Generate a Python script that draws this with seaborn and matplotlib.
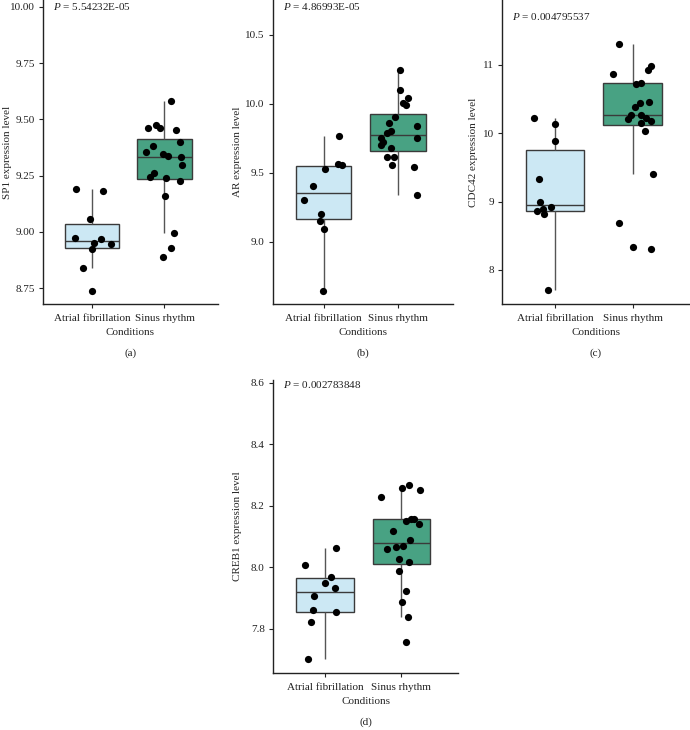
import numpy as np
import pandas as pd
import matplotlib
matplotlib.use("Agg")
import matplotlib.pyplot as plt
import seaborn as sns

# Values (expression levels per condition)
conditions = ["Atrial fibrillation", "Sinus rhythm"]

sp1_af = [9.191, 9.180, 9.057, 8.970, 8.944, 8.949, 8.922, 8.971, 8.839, 8.735]
sp1_sr = [9.584, 9.452, 9.461, 9.461, 9.474, 9.400, 9.381, 9.347, 9.333, 9.354,
          9.336, 9.299, 9.262, 9.240, 9.225, 9.243, 9.161, 8.995, 8.927, 8.887]

ar_af = [9.768, 9.553, 9.565, 9.527, 9.406, 9.302, 9.198, 9.152, 9.092, 8.647]
ar_sr = [10.242, 10.099, 10.039, 9.990, 10.002, 9.903, 9.862, 9.835, 9.800, 9.790,
         9.751, 9.749, 9.722, 9.676, 9.698, 9.611, 9.611, 9.541, 9.558, 9.341]

cdc42_af = [10.227, 10.130, 9.891, 9.337, 8.987, 8.895, 8.924, 8.812, 8.856, 7.708]
cdc42_sr = [11.301, 10.927, 10.990, 10.869, 10.742, 10.723, 10.455, 10.436, 10.378, 10.271,
            10.203, 10.144, 10.217, 10.271, 10.178, 10.028, 9.400, 8.690, 8.335, 8.311]

creb1_af = [8.062, 8.008, 7.970, 7.934, 7.948, 7.908, 7.863, 7.854, 7.824, 7.701]
creb1_sr = [8.268, 8.251, 8.228, 8.257, 8.156, 8.150, 8.156, 8.117, 8.141, 8.089,
            8.071, 8.061, 8.065, 8.019, 8.027, 7.989, 7.922, 7.887, 7.840, 7.757]

genes = ["SP1", "AR", "CDC42", "CREB1"]
p_values = ["5.54232E-05", "4.86993E-05", "0.004795537", "0.002783848"]
panel_tags = ["(a)", "(b)", "(c)", "(d)"]
y_ticks = [
    [8.75, 9.00, 9.25, 9.50, 9.75, 10.00],
    [9.0, 9.5, 10.0, 10.5],
    [8, 9, 10, 11],
    [7.8, 8.0, 8.2, 8.4, 8.6],
]
tick_fmt = ["{:.2f}", "{:.1f}", "{:.0f}", "{:.1f}"]

sns.set_theme(style="ticks")
plt.rcParams["font.family"] = ["Liberation Serif", "DejaVu Serif"]
plt.rcParams["mathtext.fontset"] = "custom"
plt.rcParams["mathtext.rm"] = "Liberation Serif"
plt.rcParams["mathtext.it"] = "Liberation Serif:italic"

FS = 8
palette = {"Atrial fibrillation": "#cce8f4", "Sinus rhythm": "#48a283"}
edge = "#3a3a3a"

W, H = 690, 730
fig = plt.figure(figsize=(W / 100, H / 100), dpi=100)

# axes boxes in pixels: left, right, top, bottom
boxes = [
    (43, 218, 0, 304),
    (273, 453, 0, 304),
    (502, 690, 0, 304),
    (273, 458, 380, 673),
]
ylims = [(8.679, 10.031), (8.55, 10.75), (7.5, 11.95), (7.657, 8.609)]
p_y = [0.977, 0.977, 0.947, 0.983]
ylabel_off = [31, 31, 24, 31]  # px left of the spine

series = [(sp1_af, sp1_sr), (ar_af, ar_sr), (cdc42_af, cdc42_sr), (creb1_af, creb1_sr)]

for i, (af, sr) in enumerate(series):
    l, r, t, b = boxes[i]
    ax = fig.add_axes([l / W, 1 - b / H, (r - l) / W, (b - t) / H])
    df = pd.DataFrame({
        "Conditions": [conditions[0]] * len(af) + [conditions[1]] * len(sr),
        "value": af + sr,
    })
    sns.boxplot(
        data=df, x="Conditions", y="value", hue="Conditions", order=conditions,
        palette=palette, saturation=1, width=0.75, linecolor=edge, linewidth=1.0,
        showfliers=False, whis=1.5, legend=False, ax=ax,
        whiskerprops={"color": "#555555"}, capprops={"linewidth": 0},
    )
    np.random.seed(7 + i)
    sns.stripplot(
        data=df, x="Conditions", y="value", order=conditions, color="black",
        size=5.2, jitter=0.27, ax=ax, zorder=5,
    )
    ax.set_xlim(-0.68, 1.74)
    ax.set_ylim(*ylims[i])
    ax.set_yticks(y_ticks[i])
    ax.set_yticklabels([tick_fmt[i].format(v) for v in y_ticks[i]])
    ax.set_xlabel("Conditions", fontsize=FS, labelpad=4)
    ax.set_ylabel(f"{genes[i]} expression level", fontsize=FS)
    ax.yaxis.set_label_coords(-ylabel_off[i] / (r - l), 0.5)
    ax.tick_params(axis="both", labelsize=FS, length=3, width=0.8, colors="#222222")
    ax.tick_params(axis="x", pad=4)
    ax.tick_params(axis="y", pad=3)
    for side in ["top", "right"]:
        ax.spines[side].set_visible(False)
    for side in ["left", "bottom"]:
        ax.spines[side].set_linewidth(1.0)
        ax.spines[side].set_color("#222222")
    ax.text(0.055, p_y[i], f"$P$ = {p_values[i]}", transform=ax.transAxes,
            fontsize=FS, va="center", ha="left", color="#222222")
    cx = (l + r) / 2 / W
    fig.text(cx, 1 - (b + 49) / H, panel_tags[i], fontsize=FS, ha="center", va="center",
             color="#222222")

fig.savefig("out.png", dpi=100)
